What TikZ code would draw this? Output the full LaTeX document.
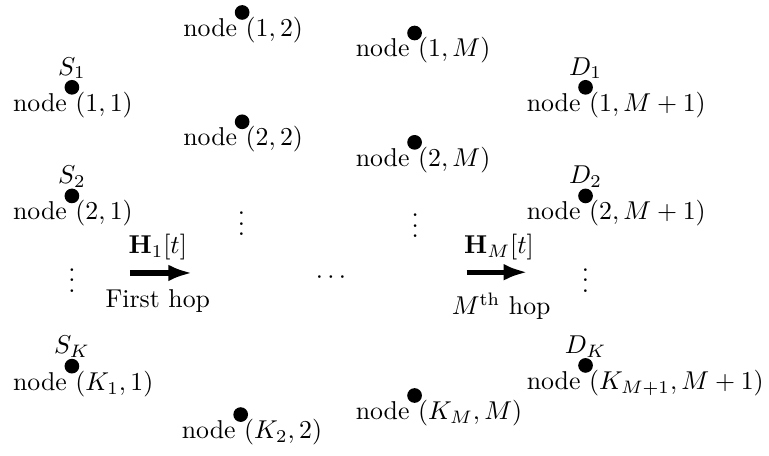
\documentclass[tikz,border=0pt]{standalone}
\usepackage{amsmath}
\usepackage{amssymb}
\usepackage{tikz}
\usetikzlibrary{arrows.meta, positioning}

\begin{document}
\begin{tikzpicture}[
  relay/.style={circle, fill=black, inner sep=0pt, minimum size=5.7pt},
  tag/.style={inner sep=0pt},
  hoparrow/.style={line width=2pt, -{Latex[length=9.3pt,width=6.5pt]}}
]
  \useasboundingbox (0,0) rectangle (10.48,-6.21);

  % Relay nodes of all hops, each with its name below
  \foreach \id/\x/\y/\txt in {
      n11/0.98/-1.19/{node $(1,1)$},
      n21/0.98/-2.67/{node $(2,1)$},
      nK1/0.98/-4.99/{node $(K_1,1)$},
      n12/3.30/-0.17/{node $(1,2)$},
      n22/3.30/-1.66/{node $(2,2)$},
      nK2/3.28/-5.65/{node $(K_2,2)$},
      n1M/5.65/-0.45/{node $(1,M)$},
      n2M/5.65/-1.94/{node $(2,M)$},
      nKM/5.65/-5.39/{node $(K_M,M)$},
      n1D/7.98/-1.19/{node $(1,M+1)$},
      n2D/7.98/-2.67/{node $(2,M+1)$},
      nKD/7.98/-4.98/{node $(K_{M+1},M+1)$}} {
    \node[relay] (\id) at (\x,\y) {};
    \node[tag, anchor=base west] (\id-l) at ([xshift=-23pt,yshift=-9.3pt]\id.center) {\txt};
  }

  % Sources and destinations
  \node[tag, above=0pt of n11] (s1) {$S_1$};
  \node[tag, above=0pt of n21] (s2) {$S_2$};
  \node[tag, above=0pt of nK1] (sK) {$S_K$};
  \node[tag, above=0pt of n1D] (d1) {$D_1$};
  \node[tag, above=0pt of n2D] (d2) {$D_2$};
  \node[tag, above=0pt of nKD] (dK) {$D_K$};

  % Dots
  \node[tag, anchor=base] (v1) at (0.98,-3.98) {$\vdots$};
  \node[tag, anchor=base] (v2) at (3.29,-3.21) {$\vdots$};
  \node[tag, anchor=base] (vM) at (5.66,-3.235) {$\vdots$};
  \node[tag, anchor=base] (vD) at (7.98,-3.98) {$\vdots$};
  \node[tag, anchor=base] (hdots) at (4.54,-3.86) {$\cdots$};

  % First hop
  \coordinate (a1s) at (1.77,-3.72);
  \coordinate (a1e) at (2.62,-3.72);
  \draw[hoparrow] (a1s) -- (a1e);
  \node[anchor=base] (h1) at (2.15,-3.45) {$\mathbf{H}_1[t]$};
  \node[anchor=base] (hop1) at (2.15,-4.19) {First hop};

  % M-th hop
  \coordinate (aMs) at (6.36,-3.71);
  \coordinate (aMe) at (7.19,-3.71);
  \draw[hoparrow] (aMs) -- (aMe);
  \node[anchor=base] (hM) at (6.80,-3.46) {$\mathbf{H}_M[t]$};
  \node[anchor=base] (hopM) at (6.83,-4.29) {$M^{\text{th}}$ hop};
\end{tikzpicture}
\end{document}
